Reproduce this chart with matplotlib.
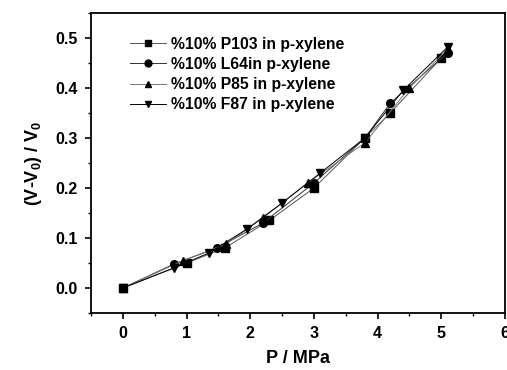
import matplotlib
matplotlib.use("Agg")
import matplotlib.pyplot as plt
from matplotlib.ticker import MultipleLocator

plt.rcParams['font.family'] = ['Liberation Sans', 'DejaVu Sans']
plt.rcParams['mathtext.fontset'] = 'custom'
plt.rcParams['mathtext.rm'] = 'Liberation Sans:bold'
plt.rcParams['mathtext.it'] = 'Liberation Sans:bold'
plt.rcParams['mathtext.bf'] = 'Liberation Sans:bold'

p103_x = [0, 1.0, 1.6, 2.3, 3.0, 3.8, 4.2, 5.0]
p103_y = [0, 0.05, 0.08, 0.135, 0.2, 0.3, 0.35, 0.46]
l64_x = [0, 0.8, 1.48, 2.2, 3.0, 3.8, 4.2, 5.1]
l64_y = [0, 0.048, 0.08, 0.13, 0.21, 0.3, 0.37, 0.47]
p85_x = [0, 0.95, 1.62, 2.2, 2.9, 3.8, 4.5, 5.1]
p85_y = [0, 0.055, 0.088, 0.14, 0.21, 0.29, 0.40, 0.478]
f87_x = [0, 0.8, 1.35, 1.95, 2.5, 3.1, 3.8, 4.4, 5.1]
f87_y = [0, 0.04, 0.07, 0.118, 0.17, 0.23, 0.3, 0.395, 0.482]
labels = ["%10% P103 in p-xylene", "%10% L64in p-xylene",
          "%10% P85 in p-xylene", "%10% F87 in p-xylene"]

fig = plt.figure(figsize=(5.07, 3.70), dpi=100)
ax = fig.add_axes([0.1795, 0.154, 0.8165, 0.811])

series = [(p103_x, p103_y, 's', '#555555'), (l64_x, l64_y, 'o', '#333333'),
          (p85_x, p85_y, '^', '#777777'), (f87_x, f87_y, 'v', '#000000')]
for (x, y, m, c), lab in zip(series, labels):
    ax.plot(x, y, marker=m, color=c, mfc='black', mec='black', ms=5.5, lw=0.7, label=lab)

ax.set_xlim(-0.5, 6)
ax.set_ylim(-0.05, 0.55)
ax.xaxis.set_major_locator(MultipleLocator(1))
ax.xaxis.set_minor_locator(MultipleLocator(0.5))
ax.yaxis.set_major_locator(MultipleLocator(0.1))
ax.yaxis.set_minor_locator(MultipleLocator(0.05))
ax.set_yticks([0, 0.1, 0.2, 0.3, 0.4, 0.5])
ax.tick_params(which='major', direction='out', length=4.5, width=1.2, labelsize=11.5, pad=5)
ax.tick_params(which='minor', direction='out', length=2.5, width=1.0)
for lab in ax.get_xticklabels() + ax.get_yticklabels():
    lab.set_fontweight('bold')
for s in ax.spines.values():
    s.set_linewidth(1.3)

ax.set_xlabel("P / MPa", fontsize=13, fontweight='bold', labelpad=6)
ax.set_ylabel(r"(V-V$_0$) / V$_0$", fontsize=13, fontweight='bold', labelpad=8)

leg = ax.legend(loc='upper left', bbox_to_anchor=(0.094, 0.92), frameon=False,
                borderaxespad=0, borderpad=0,
                prop={'weight': 'bold', 'size': 11.3}, handlelength=2.3,
                handletextpad=0.3, labelspacing=0.32, markerscale=0.9)

fig.savefig("out.png", dpi=100)
